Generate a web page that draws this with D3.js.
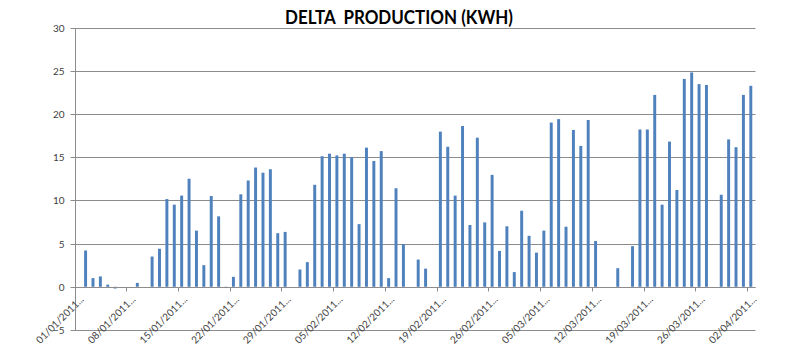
<!DOCTYPE html>
<html>
<head>
<meta charset="utf-8">
<script src="https://cdn.jsdelivr.net/npm/d3@7"></script>
<style>
  html, body { margin: 0; padding: 0; background: #fff; }
  svg { display: block; }
</style>
</head>
<body>
<svg id="chart" width="800" height="356"></svg>
<script>
// ---- data ----
const startDate = new Date(2011, 0, 1);
const endDate = new Date(2011, 3, 3); // exclusive
const days = d3.timeDay.range(startDate, endDate); // 01/01/2011 .. 02/04/2011

const production = [
  0, 4.2, 1.0, 1.2, 0.25, -0.2, 0, 0, 0.45, 0,
  3.5, 4.4, 10.15, 9.5, 10.55, 12.5, 6.5, 2.5, 10.5, 8.15,
  -0.1, 1.15, 10.7, 12.3, 13.8, 13.2, 13.6, 6.2, 6.35, 0,
  2.0, 2.85, 11.8, 15.1, 15.4, 15.2, 15.4, 15.0, 7.25, 16.1,
  14.55, 15.7, 1.0, 11.4, 4.95, 0, 3.15, 2.1, 0, 17.95,
  16.2, 10.55, 18.6, 7.15, 17.25, 7.45, 12.95, 4.15, 7.0, 1.7,
  8.8, 5.9, 3.95, 6.5, 19.0, 19.4, 6.95, 18.15, 16.3, 19.3,
  5.3, 0, 0, 2.15, 0, 4.7, 18.2, 18.2, 22.2, 9.5,
  16.8, 11.2, 24.05, 24.8, 23.45, 23.35, 0, 10.65, 17.05, 16.15,
  22.2, 23.25
];

const yTicks = [-5, 0, 5, 10, 15, 20, 25, 30];

const tickLabels = [
  "01/01/2011...", "08/01/2011...", "15/01/2011...", "22/01/2011...",
  "29/01/2011...", "05/02/2011...", "12/02/2011...", "19/02/2011...",
  "26/02/2011...", "05/03/2011...", "12/03/2011...", "19/03/2011...",
  "26/03/2011...", "02/04/2011..."
];
const tickDates = tickLabels.map(s => d3.timeParse("%d/%m/%Y")(s.slice(0, 10)));

const title = "DELTA  PRODUCTION (KWH)";

// ---- layout ----
const svg = d3.select("#chart");
const plotLeft = 74.5, plotRight = 754.5, plotTop = 27.5, plotBottom = 330;
const gridColor = "#8c8c8c";
const textColor = "#404040";
const font = "Lato, 'Open Sans', sans-serif";

const x = d3.scaleBand()
  .domain(days.map(d => +d))
  .range([plotLeft, plotRight])
  .paddingInner(0.6)
  .paddingOuter(0.3);

const xTime = d3.scaleTime()
  .domain([startDate, endDate])
  .range([plotLeft, plotRight]);

const y = d3.scaleLinear().domain([-5, 30]).range([plotBottom, plotTop]);

// gridlines
svg.append("g")
  .selectAll("line")
  .data(yTicks)
  .join("line")
  .attr("x1", plotLeft)
  .attr("x2", plotRight + 1)
  .attr("y1", d => Math.round(y(d)) + 0.5)
  .attr("y2", d => Math.round(y(d)) + 0.5)
  .attr("stroke", gridColor)
  .attr("stroke-width", 1);

// y axis
const yAxis = svg.append("g")
  .attr("transform", `translate(${Math.round(plotLeft) + 0.5},0)`)
  .call(d3.axisLeft(y).tickValues(yTicks).tickSize(5).tickPadding(6).tickFormat(d3.format("d")));
yAxis.selectAll("line").attr("stroke", gridColor);
yAxis.select(".domain").attr("stroke", gridColor).attr("d", `M0,${Math.round(y(30)) + 0.5}V${Math.round(y(-5)) + 0.5}`);
yAxis.selectAll("text")
  .attr("fill", textColor)
  .style("font-family", font)
  .style("font-size", "10px");
yAxis.selectAll(".tick").attr("transform", d => `translate(0,${Math.round(y(d)) + 0.5})`);

// bars
svg.append("g")
  .selectAll("rect")
  .data(days.map((d, i) => ({ date: +d, value: production[i] })))
  .join("rect")
  .attr("x", d => x(d.date))
  .attr("width", x.bandwidth())
  .attr("y", d => Math.min(y(d.value), y(0)))
  .attr("height", d => Math.abs(y(d.value) - y(0)))
  .attr("fill", "#4f81bd");

// x axis at zero
const zeroY = Math.round(y(0)) + 0.5;
const xAxis = svg.append("g")
  .attr("transform", `translate(0,${zeroY})`)
  .call(d3.axisBottom(xTime).tickValues(tickDates).tickSize(4).tickFormat(""));
xAxis.select(".domain").attr("stroke", gridColor).attr("d", `M${plotLeft},0H${plotRight + 1}`);
xAxis.selectAll("line").attr("stroke", gridColor);
xAxis.selectAll(".tick").attr("transform", d => `translate(${Math.round(xTime(d)) + 0.5},0)`);

// rotated x labels
svg.append("g")
  .selectAll("text")
  .data(tickDates)
  .join("text")
  .attr("transform", d => `translate(${xTime(d) + 10},300) rotate(-45)`)
  .attr("text-anchor", "end")
  .attr("fill", textColor)
  .style("font-family", font)
  .style("font-size", "10px")
  .text((d, i) => tickLabels[i]);

// title
svg.append("text")
  .attr("x", 399)
  .attr("y", 24)
  .attr("text-anchor", "middle")
  .attr("fill", "#000")
  .style("font-family", font)
  .style("font-weight", "bold")
  .style("font-size", "18px")
  .attr("textLength", 228)
  .attr("lengthAdjust", "spacingAndGlyphs")
  .style("white-space", "pre")
  .text(title);
</script>
</body>
</html>
